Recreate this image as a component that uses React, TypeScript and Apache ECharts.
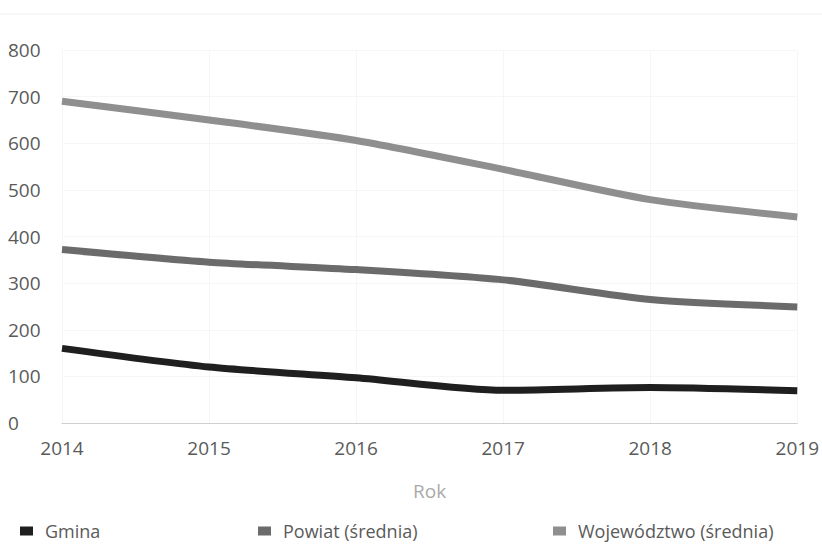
import React, { useEffect, useRef } from "react";
import * as echarts from "echarts";

const years = ["2014", "2015", "2016", "2017", "2018", "2019"];
const gmina = [160, 120, 97, 70, 76, 69];
const powiat = [372, 345, 329, 307, 265, 249];
const wojewodztwo = [690, 650, 606, 544, 479, 442];
const yTicks = [0, 100, 200, 300, 400, 500, 600, 700, 800];

const FONT = "Open Sans";

export default function App() {
  const ref = useRef<HTMLDivElement>(null);
  useEffect(() => {
    if (!ref.current) return;
    const chart = echarts.init(ref.current, null, { renderer: "svg" });
    const legendText = { fontFamily: FONT, fontSize: 18, lineHeight: 20, color: "#5a5a5a", padding: [0, 0, 0, 7] };
    const mkLegend = (name: string, left: number) => ({
      data: [name],
      left,
      top: 521,
      padding: 0,
      icon: "rect",
      itemWidth: 13,
      itemHeight: 9,
      textStyle: legendText,
      selectedMode: false,
    });
    chart.setOption({
      animation: false,
      backgroundColor: "#fff",
      grid: { left: 62, right: 24, top: 50, bottom: 122, containLabel: false },
      legend: [
        mkLegend("Gmina", 20),
        mkLegend("Powiat (średnia)", 258),
        mkLegend("Województwo (średnia)", 553),
      ],
      xAxis: {
        type: "category",
        data: years,
        boundaryGap: false,
        name: "Rok",
        nameLocation: "middle",
        nameGap: 58,
        nameTextStyle: { fontFamily: FONT, fontSize: 19, color: "#aaa" },
        axisLine: { show: true, lineStyle: { color: "#cfcfcf", width: 1 } },
        axisTick: { show: false },
        axisLabel: { fontFamily: FONT, fontSize: 19, color: "#5a5a5a", margin: 15 },
        splitLine: { show: true, lineStyle: { color: "#f6f6f6", width: 1 } },
      },
      yAxis: {
        type: "value",
        min: yTicks[0],
        max: yTicks[yTicks.length - 1],
        interval: 100,
        axisLine: { show: false },
        axisTick: { show: false },
        axisLabel: { fontFamily: FONT, fontSize: 19, color: "#5a5a5a", align: "left", margin: 54 },
        splitLine: { show: true, lineStyle: { color: "#f6f6f6", width: 1 } },
      },
      graphic: [
        {
          type: "line",
          shape: { x1: 0, y1: 14, x2: 822, y2: 14 },
          style: { stroke: "#eeeeee", lineWidth: 1 },
          silent: true,
        },
      ],
      series: [
        {
          name: "Gmina",
          type: "line",
          data: gmina,
          smooth: 0.25,
          showSymbol: false,
          itemStyle: { color: "#1f1f1f" },
          lineStyle: { color: "#1f1f1f", width: 7 },
        },
        {
          name: "Powiat (średnia)",
          type: "line",
          data: powiat,
          smooth: 0.25,
          showSymbol: false,
          itemStyle: { color: "#6b6b6b" },
          lineStyle: { color: "#6b6b6b", width: 7 },
        },
        {
          name: "Województwo (średnia)",
          type: "line",
          data: wojewodztwo,
          smooth: 0.25,
          showSymbol: false,
          itemStyle: { color: "#8f8f8f" },
          lineStyle: { color: "#8f8f8f", width: 7 },
        },
      ],
    });
    return () => chart.dispose();
  }, []);
  return <div ref={ref} style={{ width: 822, height: 545, position: "absolute", left: 0, top: 0 }} />;
}
